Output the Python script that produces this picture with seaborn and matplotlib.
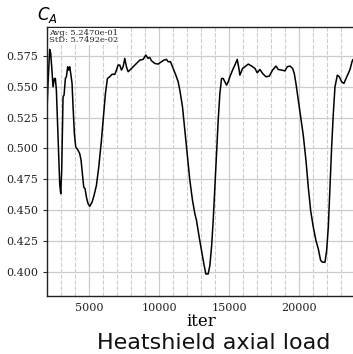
import numpy as np
import pandas as pd
import seaborn as sns
import matplotlib
matplotlib.use("Agg")
import matplotlib.pyplot as plt
from matplotlib.ticker import MultipleLocator, FormatStrFormatter

##################
## Data ##
##################

iters = [2002, 2073, 2193, 2264, 2336, 2431, 2526, 2598, 2669, 2788, 2907, 2979, 3050, 3145, 3216,
         3312, 3384, 3479, 3550, 3621, 3693, 3788, 3859, 3955, 4050, 4216, 4336, 4431, 4526, 4621,
         4716, 4812, 4931, 5050, 5216, 5359, 5526, 5693, 5884, 6050, 6169, 6312, 6479, 6645, 6836,
         6955, 7074, 7193, 7312, 7431, 7550, 7669, 7788, 7955, 8145, 8384, 8621, 8859, 9050, 9216,
         9336, 9455, 9693, 9931, 10169, 10336, 10526, 10645, 10812, 11002, 11193, 11359, 11479,
         11669, 11836, 12002, 12193, 12384, 12550, 12669, 12860, 13026, 13193, 13336, 13502, 13621,
         13741, 13860, 13979, 14098, 14217, 14336, 14455, 14574, 14693, 14812, 14931, 15050, 15241,
         15407, 15575, 15693, 15764, 15955, 16122, 16359, 16598, 16836, 17002, 17193, 17384, 17622,
         17860, 18098, 18336, 18502, 18741, 18979, 19145, 19336, 19526, 19645, 19764, 19931, 20098,
         20288, 20479, 20645, 20812, 21002, 21193, 21359, 21526, 21669, 21836, 21955, 22074, 22193,
         22312, 22431, 22550, 22717, 22860, 23026, 23193, 23336, 23502, 23621, 23764, 23836]

c_a = [0.5310, 0.5528, 0.5804, 0.5772, 0.5663, 0.5500, 0.5568, 0.5568, 0.5473, 0.5093, 0.4714,
       0.4632, 0.4822, 0.5419, 0.5433, 0.5568, 0.5582, 0.5663, 0.5636, 0.5663, 0.5609, 0.5528,
       0.5338, 0.5120, 0.5012, 0.4985, 0.4958, 0.4903, 0.4795, 0.4686, 0.4673, 0.4605, 0.4551,
       0.4530, 0.4564, 0.4619, 0.4700, 0.4849, 0.5066, 0.5283, 0.5446, 0.5568, 0.5582, 0.5603,
       0.5601, 0.5636, 0.5677, 0.5677, 0.5636, 0.5663, 0.5731, 0.5663, 0.5623, 0.5641, 0.5663,
       0.5690, 0.5717, 0.5723, 0.5758, 0.5731, 0.5739, 0.5712, 0.5690, 0.5685, 0.5704, 0.5717,
       0.5723, 0.5704, 0.5704, 0.5650, 0.5595, 0.5541, 0.5473, 0.5338, 0.5148, 0.4958, 0.4741,
       0.4578, 0.4470, 0.4415, 0.4280, 0.4171, 0.4062, 0.3981, 0.3981, 0.4049, 0.4198, 0.4415,
       0.4686, 0.4958, 0.5229, 0.5446, 0.5568, 0.5568, 0.5541, 0.5514, 0.5541, 0.5582, 0.5636,
       0.5677, 0.5723, 0.5650, 0.5595, 0.5650, 0.5663, 0.5685, 0.5669, 0.5650, 0.5614, 0.5641,
       0.5609, 0.5582, 0.5587, 0.5636, 0.5669, 0.5641, 0.5636, 0.5630, 0.5663, 0.5669, 0.5650,
       0.5609, 0.5528, 0.5392, 0.5256, 0.5107, 0.4903, 0.4686, 0.4497, 0.4361, 0.4252, 0.4185,
       0.4090, 0.4076, 0.4076, 0.4171, 0.4361, 0.4686, 0.5012, 0.5283, 0.5500, 0.5595, 0.5582,
       0.5541, 0.5528, 0.5568, 0.5609, 0.5641, 0.5704, 0.5723]

avg_text = "Avg: 5.2470e-01\nStD: 5.7492e-02"

df = pd.DataFrame({"iter": iters, "C_A": c_a})

##############
## Plotting ##
##############

sns.set_style("white")
plt.rcParams["font.family"] = ["DejaVu Serif"]
plt.rcParams["text.color"] = "black"

fig = plt.figure(figsize=(3.53, 3.54), dpi=100)
ax = fig.add_axes([47 / 353, 58 / 354, 308.3 / 353, 269 / 354])

sns.lineplot(data=df, x="iter", y="C_A", color="black", linewidth=1.1, ax=ax)

ax.set_xlim(2000, 24000)
ax.set_ylim(0.3802, 0.5986)

ax.xaxis.set_major_locator(MultipleLocator(5000))
ax.xaxis.set_minor_locator(MultipleLocator(1000))
ax.yaxis.set_major_locator(MultipleLocator(0.025))
ax.yaxis.set_major_formatter(FormatStrFormatter("%.3f"))

ax.grid(which="major", color="#cccccc", linestyle="-", linewidth=0.9)
ax.grid(which="minor", axis="x", color="#cccccc", linestyle="--", linewidth=0.8)
ax.set_axisbelow(True)

ax.tick_params(axis="x", which="major", direction="in", length=3, labelsize=8, pad=5,
               labelcolor="#222222")
ax.tick_params(axis="x", which="minor", length=0)
ax.tick_params(axis="y", which="major", direction="out", length=3, labelsize=8, left=True,
               labelcolor="#222222")

for side in ["left", "bottom", "top"]:
    ax.spines[side].set_color("#222222")
    ax.spines[side].set_linewidth(1.0)
ax.spines["right"].set_visible(False)

ax.set_xlabel("iter", fontsize=12, labelpad=0, color="black")
ax.set_ylabel("")

ax.text(0.008, 0.994, avg_text, transform=ax.transAxes, ha="left", va="top",
        fontsize=6, linespacing=0.95, color="#222222",
        bbox=dict(facecolor="white", edgecolor="none", pad=0.6))

fig.text(37 / 353, 1 - 20 / 354, r"$C_A$", fontsize=12, ha="left", va="baseline",
         family=["DejaVu Sans"])

fig.text(214 / 353, 1 - 349 / 354, "Heatshield axial load", fontsize=16,
         ha="center", va="baseline", family=["DejaVu Sans"], color="#111111")

plt.savefig("out.png", dpi=100)
plt.close()
